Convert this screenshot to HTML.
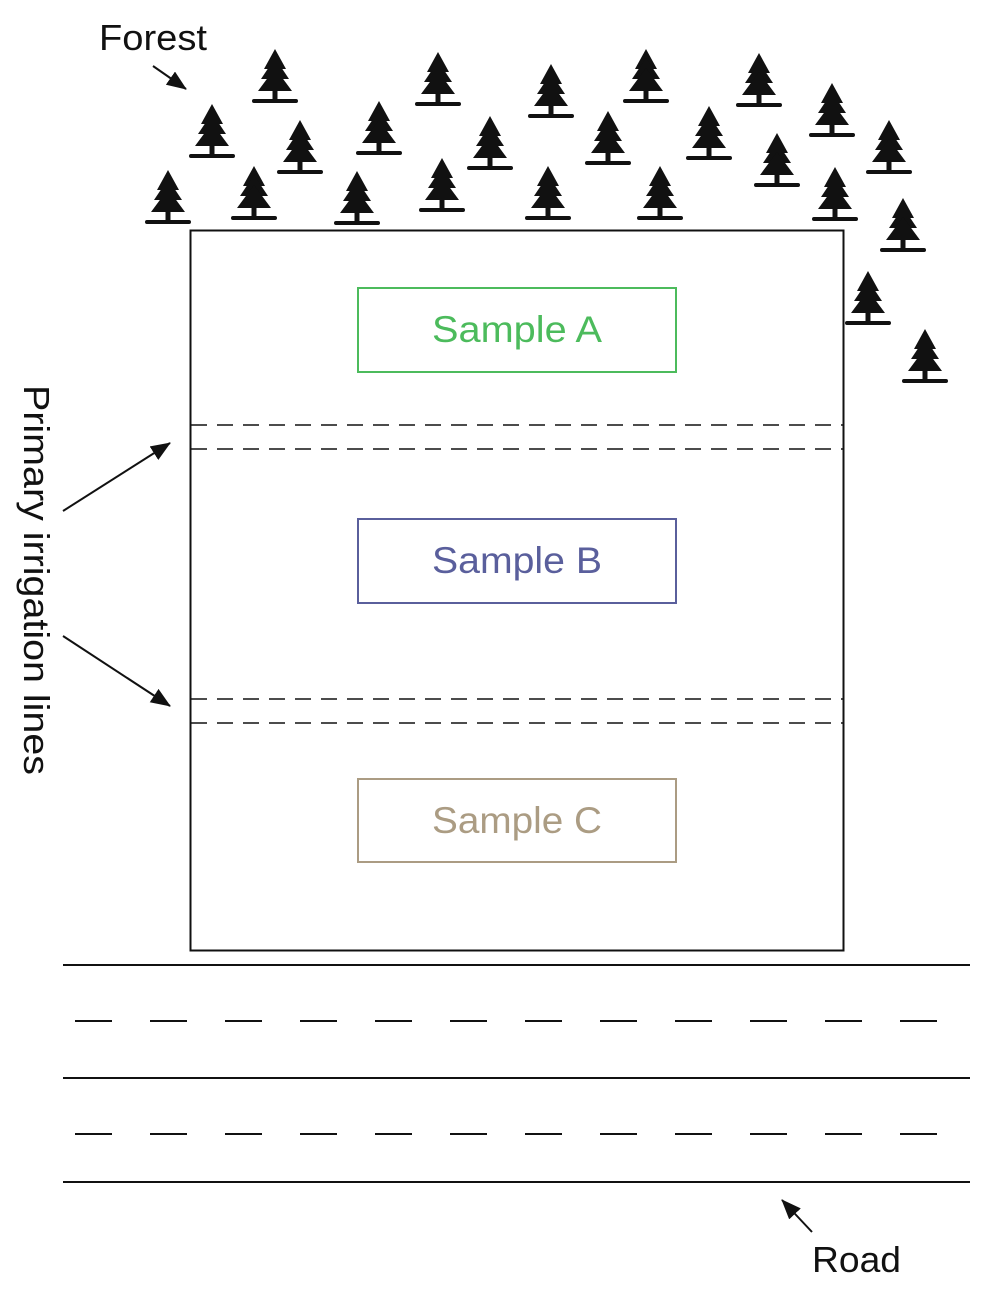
<!DOCTYPE html>
<html><head><meta charset="utf-8"><style>html,body{margin:0;padding:0;background:#fff}</style></head>
<body>
<svg width="989" height="1290" viewBox="0 0 989 1290" xmlns="http://www.w3.org/2000/svg">
<defs>
<g id="t" fill="#111">
<polygon points="0,-52 -11,-32 11,-32"/>
<polygon points="0,-43 -14,-22 14,-22"/>
<polygon points="0,-33 -17,-10 17,-10"/>
<rect x="-2.5" y="-12" width="5" height="12"/>
<rect x="-23" y="-2" width="46" height="4" rx="2"/>
</g>
<marker id="a" markerWidth="20" markerHeight="16" refX="19" refY="8" orient="auto" markerUnits="userSpaceOnUse" viewBox="0 0 20 16"><path d="M0,0 L20,8 L0,16z" fill="#111"/></marker>
</defs>
<g>
<use href="#t" x="275" y="101"/><use href="#t" x="212" y="156"/><use href="#t" x="300" y="172"/>
<use href="#t" x="168" y="222"/><use href="#t" x="254" y="218"/><use href="#t" x="379" y="153"/>
<use href="#t" x="438" y="104"/><use href="#t" x="357" y="223"/><use href="#t" x="442" y="210"/>
<use href="#t" x="490" y="168"/><use href="#t" x="551" y="116"/><use href="#t" x="548" y="218"/>
<use href="#t" x="608" y="163"/><use href="#t" x="646" y="101"/><use href="#t" x="660" y="218"/>
<use href="#t" x="709" y="158"/><use href="#t" x="759" y="105"/><use href="#t" x="777" y="185"/>
<use href="#t" x="832" y="135"/><use href="#t" x="835" y="219"/><use href="#t" x="889" y="172"/>
<use href="#t" x="903" y="250"/><use href="#t" x="868" y="323"/><use href="#t" x="925" y="381"/>
</g>
<rect x="190.5" y="230.5" width="653" height="720" fill="none" stroke="#111" stroke-width="2"/>
<g stroke="#111" stroke-width="1.5" stroke-dasharray="16,10">
<line x1="191" y1="425" x2="843" y2="425"/><line x1="191" y1="449" x2="843" y2="449"/>
<line x1="191" y1="699" x2="843" y2="699"/><line x1="191" y1="723" x2="843" y2="723"/>
</g>
<g font-family="Liberation Sans, sans-serif" font-size="37" text-anchor="middle">
<rect x="358" y="288" width="318" height="84" fill="none" stroke="#4cbb5c" stroke-width="2"/>
<text x="517" y="342" fill="#4cbb5c" textLength="170" lengthAdjust="spacingAndGlyphs">Sample A</text>
<rect x="358" y="519" width="318" height="84" fill="none" stroke="#5a5f9c" stroke-width="2"/>
<text x="517" y="573" fill="#5a5f9c" textLength="170" lengthAdjust="spacingAndGlyphs">Sample B</text>
<rect x="358" y="779" width="318" height="83" fill="none" stroke="#ab9c83" stroke-width="2"/>
<text x="517" y="833" fill="#ab9c83" textLength="170" lengthAdjust="spacingAndGlyphs">Sample C</text>
</g>
<g stroke="#111" stroke-width="2">
<line x1="63" y1="965" x2="970" y2="965"/><line x1="63" y1="1078" x2="970" y2="1078"/><line x1="63" y1="1182" x2="970" y2="1182"/>
<line x1="75" y1="1021" x2="970" y2="1021" stroke-dasharray="37,38"/>
<line x1="75" y1="1134" x2="970" y2="1134" stroke-dasharray="37,38"/>
</g>
<g stroke="#111" stroke-width="2" fill="none">
<line x1="153" y1="66" x2="186" y2="89" marker-end="url(#a)"/>
<line x1="63" y1="511" x2="170" y2="443" marker-end="url(#a)"/>
<line x1="63" y1="636" x2="170" y2="706" marker-end="url(#a)"/>
<line x1="812" y1="1232" x2="782" y2="1200" marker-end="url(#a)"/>
</g>
<g font-family="Liberation Sans, sans-serif" font-size="36" fill="#111">
<text x="99" y="50" textLength="108" lengthAdjust="spacingAndGlyphs">Forest</text>
<text x="812" y="1272" textLength="89" lengthAdjust="spacingAndGlyphs">Road</text>
<text transform="translate(24,385) rotate(90)" textLength="390" lengthAdjust="spacingAndGlyphs">Primary irrigation lines</text>
</g>
</svg>
</body></html>
